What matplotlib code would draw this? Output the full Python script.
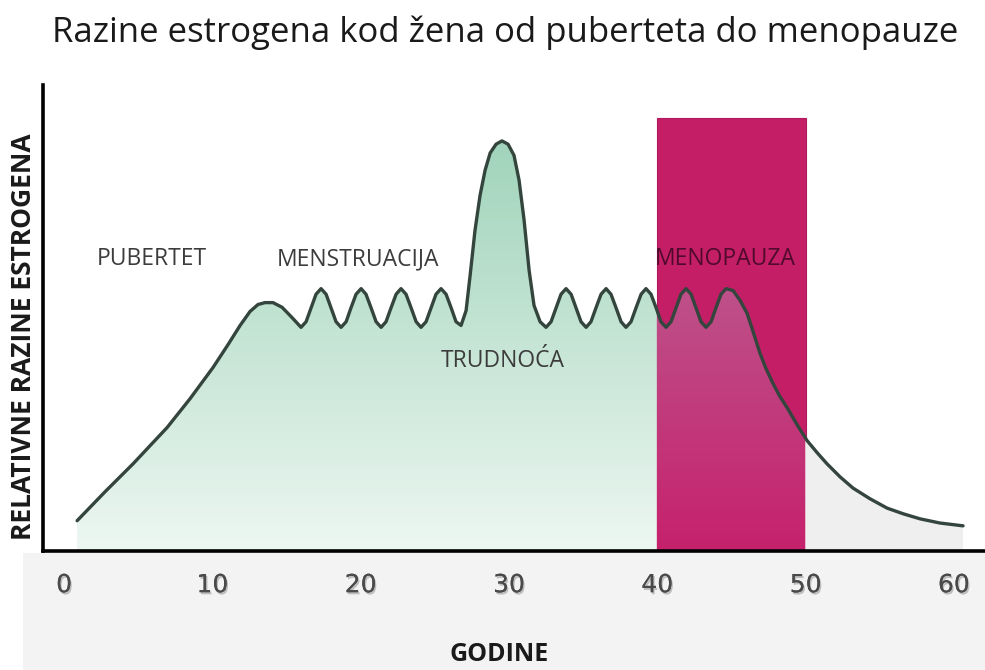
import numpy as np
import matplotlib
matplotlib.use("Agg")
import matplotlib.pyplot as plt
from matplotlib.patches import Rectangle, Polygon
import matplotlib.patheffects as pe
from matplotlib.colors import to_rgb

# ---------------- data ----------------
title = "Razine estrogena kod žena od puberteta do menopauze"
x_label = "GODINE"
y_label = "RELATIVNE RAZINE ESTROGENA"
x_ticks = [0, 10, 20, 30, 40, 50, 60]
x_tick_labels = ["0", "10", "20", "30", "40", "50", "60"]

menopause_start = 40
menopause_end = 50
menopause_top = 92.9

age = [0.88, 2.76, 4.65, 6.95, 8.50, 10.05, 11.06, 11.87, 12.54, 13.08, 13.55, 14.09, 14.70, 15.37,
       15.98, 16.32, 16.66, 16.99, 17.33, 17.67, 18.00, 18.34,
       18.68, 19.02, 19.35, 19.69, 20.03, 20.36, 20.70, 21.04,
       21.38, 21.71, 22.05, 22.39, 22.72, 23.06, 23.40, 23.74,
       24.07, 24.41, 24.75, 25.08, 25.42, 25.76, 26.10, 26.43,
       26.77, 27.11, 27.38, 27.71, 28.05, 28.39, 28.73, 29.13, 29.53, 29.94, 30.34, 30.68,
       31.02, 31.36, 31.69, 32.10,
       32.50, 32.84, 33.18, 33.51, 33.85, 34.19, 34.52, 34.86,
       35.20, 35.53, 35.87, 36.21, 36.55, 36.88, 37.22, 37.56,
       37.89, 38.23, 38.57, 38.91, 39.24, 39.58, 39.92, 40.25,
       40.59, 40.93, 41.27, 41.60, 41.94, 42.28, 42.61, 42.95,
       43.29, 43.63, 43.96, 44.30, 44.64, 45.11, 45.58, 46.06,
       46.46, 46.93, 47.34, 47.81, 48.28, 48.75, 49.43, 50.10, 50.78, 51.45,
       52.33, 53.20, 54.35, 55.50, 56.57, 57.72, 59.07, 60.62]

level = [6.5, 12.7, 18.7, 26.5, 32.7, 39.4, 44.3, 48.4, 51.4, 52.9, 53.3, 53.3, 52.3, 50.1,
         48.0, 49.2, 52.2, 55.1, 56.3, 55.1, 52.2, 49.2,
         48.0, 49.2, 52.2, 55.1, 56.3, 55.1, 52.2, 49.2,
         48.0, 49.2, 52.2, 55.1, 56.3, 55.1, 52.2, 49.2,
         48.0, 49.2, 52.2, 55.1, 56.3, 55.1, 52.2, 49.2,
         48.4, 51.6, 59.1, 68.8, 76.3, 81.7, 85.4, 87.3, 88.0, 87.3, 84.9, 79.6,
         71.0, 60.2, 52.7, 49.2,
         48.0, 49.2, 52.2, 55.1, 56.3, 55.1, 52.2, 49.2,
         48.0, 49.2, 52.2, 55.1, 56.3, 55.1, 52.2, 49.2,
         48.0, 49.2, 52.2, 55.1, 56.3, 55.1, 52.2, 49.2,
         48.0, 49.2, 52.2, 55.1, 56.3, 55.1, 52.2, 49.2,
         48.0, 49.2, 52.2, 55.1, 56.3, 55.9, 53.8, 51.0,
         47.1, 42.4, 39.1, 35.9, 33.1, 30.8, 27.1, 23.7, 21.1, 18.7,
         15.9, 13.5, 11.2, 9.2, 8.0, 6.9, 6.0, 5.4]

phase_labels = ["PUBERTET", "MENSTRUACIJA", "TRUDNOĆA", "MENOPAUZA"]
phase_x = [5.93, 19.79, 29.60, 44.57]
phase_y = [61.3, 61.3, 39.4, 61.3]
phase_colors = ["#3c3c3c", "#3c3c3c", "#3c3c3c", "#4f0a2c"]

# ---------------- figure ----------------
W, H = 985, 670
fig = plt.figure(figsize=(W / 100, H / 100), dpi=100)
fig.patch.set_facecolor("white")

# light grey band below the plot
fig.patches.append(Rectangle((23 / W, 0), 1 - 23 / W, 117 / H, transform=fig.transFigure,
                             facecolor="#f3f3f3", edgecolor="none", zorder=-5))

ax = fig.add_axes([43 / W, 119 / H, (W - 43) / W, 466 / H])
ax.set_facecolor("white")
xmin, xmax = -1.42, 62.10
ax.set_xlim(xmin, xmax)
ax.set_ylim(0, 100)

# menopause band
ax.add_patch(Rectangle((menopause_start, 0), menopause_end - menopause_start, menopause_top,
                       facecolor="#c41e67", edgecolor="#b01a5c", linewidth=0.8, zorder=1))

# gradient fill under curve
nx, ny = 1200, 600
xs = np.linspace(xmin, xmax, nx)
ys = np.linspace(0, 100, ny)
img = np.zeros((ny, nx, 3))
t = np.clip(ys / 90.0, 0, 1)[:, None]
g_top, g_bot = np.array(to_rgb("#9fd3b9")), np.array(to_rgb("#edf7f2"))
m_top, m_bot = np.array(to_rgb("#be5089")), np.array(to_rgb("#c6216c"))
grey = np.array(to_rgb("#efefef"))
green = g_bot + (g_top - g_bot) * t
tm = np.clip(ys / 55.0, 0, 1)[:, None]
mag = m_bot + (m_top - m_bot) * tm
col_green = xs < menopause_start
col_mag = (xs >= menopause_start) & (xs <= menopause_end)
col_grey = xs > menopause_end
for c in range(3):
    img[:, col_green, c] = green[:, c:c + 1]
    img[:, col_mag, c] = mag[:, c:c + 1]
    img[:, col_grey, c] = grey[c]
im = ax.imshow(img, extent=[xmin, xmax, 0, 100], origin="lower", aspect="auto", zorder=2,
               interpolation="bilinear")
poly_xy = list(zip(age, level)) + [(age[-1], 0), (age[0], 0)]
clip = Polygon(poly_xy, closed=True, transform=ax.transData, facecolor="none", edgecolor="none")
ax.add_patch(clip)
im.set_clip_path(clip)

ax.plot(age, level, color="#34453e", linewidth=2.4, solid_joinstyle="round",
        solid_capstyle="round", zorder=3)

# phase labels
for lab, px, py, col in zip(phase_labels, phase_x, phase_y, phase_colors):
    ax.text(px, py, lab, ha="center", va="baseline", fontsize=16.5, color=col,
            family="Open Sans", zorder=4)

# spines / ticks
for s in ["top", "right"]:
    ax.spines[s].set_visible(False)
ax.spines["left"].set_linewidth(2.6)
ax.spines["bottom"].set_linewidth(2.6)
ax.spines["left"].set_zorder(5)
ax.spines["bottom"].set_zorder(5)
ax.set_yticks([])
ax.set_xticks(x_ticks)
ax.set_xticklabels(x_tick_labels, fontsize=18, color="#4a4a4a", family="DejaVu Sans")
ax.tick_params(axis="x", length=0, pad=16)
for lbl in ax.get_xticklabels():
    lbl.set_path_effects([pe.withSimplePatchShadow(offset=(1, -1.5), shadow_rgbFace="#9a9a9a",
                                                   alpha=0.6), pe.Normal()])

fig.text(505 / W, 1 - 42 / H, title, ha="center", va="baseline", fontsize=25, color="#1a1a1a",
         family="Open Sans")
fig.text(24 / W, 1 - 337 / H, y_label, rotation=90, ha="center", va="center", fontsize=19,
         fontweight="bold", color="#1a1a1a", family="Open Sans")
fig.text(499 / W, 1 - 661 / H, x_label, ha="center", va="baseline", fontsize=18,
         fontweight="bold", color="#1a1a1a", family="Open Sans")

fig.savefig("out.png", dpi=100, facecolor=fig.get_facecolor())
